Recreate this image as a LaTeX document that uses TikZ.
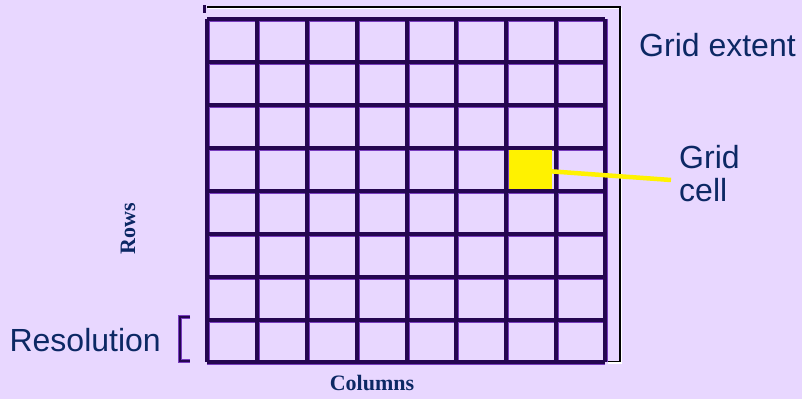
\documentclass[tikz,border=0pt]{standalone}
\usepackage{fontspec}
\setmainfont{Liberation Serif}
\newfontfamily\labelsans{Liberation Sans}
\definecolor{bgc}{RGB}{232,215,255}
\definecolor{gridc}{RGB}{36,6,80}
\definecolor{gridedge}{RGB}{120,60,190}
\definecolor{txt}{RGB}{12,40,100}
\tikzset{
  sanslabel/.style={text=txt,font=\labelsans\fontsize{32}{35}\selectfont,inner sep=0pt,align=left},
  seriflabel/.style={text=txt,font=\bfseries\fontsize{22}{24}\selectfont,inner sep=0pt},
  gridline/.style={line width=3.4pt,draw=gridc},
  gridshade/.style={line width=5pt,draw=gridedge},
}
\begin{document}
\begin{tikzpicture}[x=1pt,y=-1pt]
\fill[bgc] (0,0) rectangle (802,399);
\useasboundingbox (0,0) rectangle (802,399);
% grid cell highlight
\node[fill=yellow,minimum width=45pt,minimum height=39pt,inner sep=0pt,anchor=north west] (cell) at (507,150) {};
% grid shade and lines
\foreach \x in {207,257,307,357,407,456,506,556,605}
  \draw[gridshade] (\x,19) -- (\x,362);
\foreach \y in {19,62,105,148,191,234,277,320,362}
  \draw[gridshade] (207,\y) -- (605,\y);
\foreach \x in {207,257,307,357,407,456,506,556,605}
  \draw[gridline] (\x,19) -- (\x,362);
\foreach \y in {19,62,105,148,191,234,277,320,362}
  \draw[gridline] (207,\y) -- (605,\y);
\fill[yellow] (509,150) rectangle (552,189);
% grid extent bracket
\draw[white,line width=1.5pt] (208,8.5) -- (621.5,8.5) -- (621.5,363) -- (608,363);
\draw[black,line width=1.5pt] (207,7) -- (620,7) -- (620,361.5) -- (608,361.5);
\draw[gridc,line width=3pt] (204,5) -- (204,13);
% resolution bracket
\draw[gridedge,line width=4pt] (190,317) -- (180,317) -- (180,361) -- (190,361);
\draw[gridc,line width=2.4pt] (190,317) -- (180,317) -- (180,361) -- (190,361);
% labels
\node[sanslabel,anchor=west] (extent) at (639,45) {Grid extent};
\node[sanslabel,anchor=west] (celltxt) at (679,174) {Grid\\[-2pt]cell};
\node[sanslabel,anchor=east] (res) at (161,340) {Resolution};
\node[seriflabel,rotate=90] (rows) at (128,229) {Rows};
\node[seriflabel] (cols) at (372,383) {Columns};
% connector
\coordinate (lineend) at (671,180);
\draw[yellow,line width=4.5pt] (cell.center) ++(-1,0) -- (lineend);
\end{tikzpicture}
\end{document}
